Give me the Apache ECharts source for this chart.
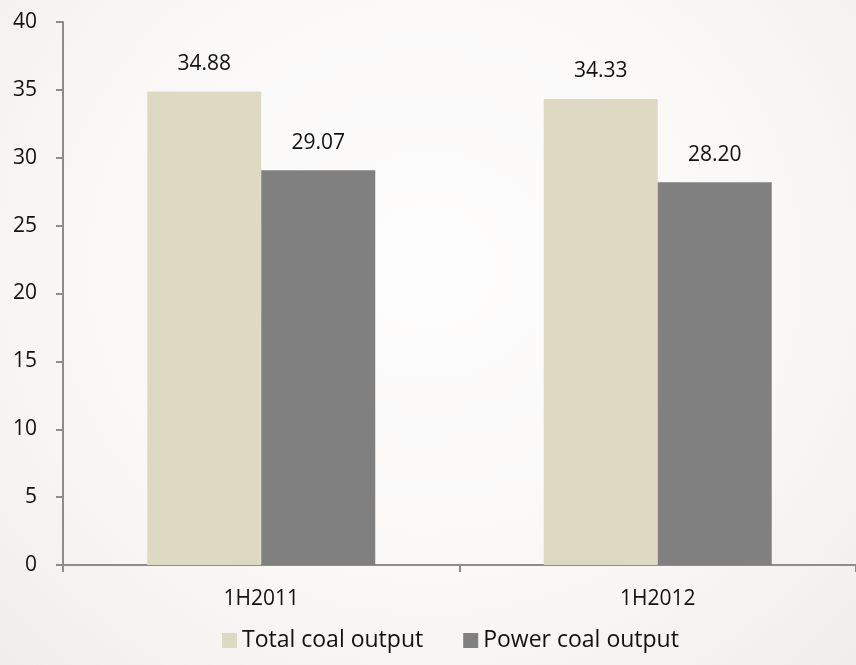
<!DOCTYPE html>
<html>
<head>
<meta charset="utf-8">
<script src="https://cdn.jsdelivr.net/npm/echarts@6/dist/echarts.min.js"></script>
<style>
  html, body { margin: 0; padding: 0; }
  body {
    width: 856px; height: 665px;
    background: radial-gradient(ellipse at 50% 40%, #fefdfd 0%, #f9f8f7 60%, #efeeec 100%);
  }
  #chart { width: 856px; height: 665px; }
</style>
</head>
<body>
<div id="chart"></div>
<script>
// Half-year coal output
const categories = ['1H2011', '1H2012'];
const totalCoal = [34.88, 34.33];
const powerCoal = [29.07, 28.20];
const seriesNames = ['Total coal output', 'Power coal output'];

const font = "'Open Sans', 'Noto Sans', sans-serif";
const fs = 21;
const chart = echarts.init(document.getElementById('chart'));

const labelStyle = {
  show: true,
  position: 'top',
  distance: 17,
  color: '#111',
  fontSize: fs,
  fontFamily: font,
  formatter: p => p.value.toFixed(2)
};

chart.setOption({
  animation: false,
  backgroundColor: 'transparent',
  grid: { left: 63, right: -4, top: 22, bottom: 100, containLabel: false },
  legend: {
    top: 629,
    left: 222,
    padding: 0,
    itemWidth: 15,
    itemHeight: 15,
    itemGap: 40,
    icon: 'rect',
    textStyle: { fontSize: 23, color: '#111', fontFamily: font },
    data: seriesNames
  },
  xAxis: {
    type: 'category',
    data: categories,
    axisLine: { lineStyle: { color: '#8c8c8c', width: 2 } },
    axisTick: { show: true, length: 7, lineStyle: { color: '#8c8c8c', width: 2 } },
    axisLabel: { fontSize: fs, color: '#111', fontFamily: font, margin: 24 }
  },
  yAxis: {
    type: 'value',
    min: 0,
    max: 40,
    interval: 5,
    splitLine: { show: false },
    axisLine: { show: true, lineStyle: { color: '#8c8c8c', width: 2 } },
    axisTick: { show: true, length: 7, lineStyle: { color: '#8c8c8c', width: 2 } },
    axisLabel: { fontSize: fs, color: '#111', fontFamily: font, margin: 26 }
  },
  series: [
    {
      name: seriesNames[0],
      type: 'bar',
      data: totalCoal,
      barGap: '0%',
      barCategoryGap: '42.5%',
      itemStyle: { color: '#ddd9c3' },
      label: labelStyle
    },
    {
      name: seriesNames[1],
      type: 'bar',
      data: powerCoal,
      itemStyle: { color: '#808080' },
      label: labelStyle
    }
  ]
});
</script>
</body>
</html>
